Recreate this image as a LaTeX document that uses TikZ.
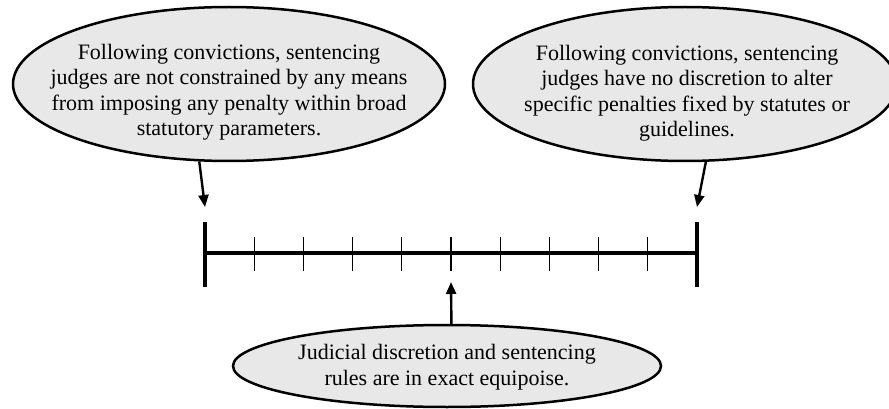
\documentclass[tikz,border=0pt]{standalone}
\usepackage{fontspec}
\setmainfont{Liberation Serif}
\usetikzlibrary{arrows.meta,calc,shapes.geometric}
\definecolor{bubblegray}{HTML}{E8E8E8}
\begin{document}
\begin{tikzpicture}[x=1pt,y=-1pt,
  bubble/.style={draw=black, line width=2.5pt, fill=bubblegray, ellipse, inner sep=0pt},
  bubbletext/.style={align=center, font=\fontsize{22}{25.5}\selectfont, inner sep=0pt},
  arr/.style={line width=2.4pt, -{Triangle[length=12pt,width=10pt]}},
  axisline/.style={line width=3.3pt},
  tickline/.style={line width=1.3pt}
]
\useasboundingbox (0,0) rectangle (889,409);
% bubbles
\node[bubble, minimum width=432pt, minimum height=154pt] (L) at (229,84) {};
\node[bubbletext] (Lt) at (229,92) {Following convictions, sentencing\\judges are not constrained by any means\\from imposing any penalty within broad\\statutory parameters.};
\node[bubble, minimum width=424pt, minimum height=154pt] (R) at (685,84) {};
\node[bubbletext] (Rt) at (687,93) {Following convictions, sentencing\\judges have no discretion to alter\\specific penalties fixed by statutes or\\guidelines.};
\node[bubble, minimum width=428pt, minimum height=82pt] (B) at (447,366) {};
\node[bubbletext] (Bt) at (447,367) {Judicial discretion and sentencing\\rules are in exact equipoise.};
% axis
\coordinate (A0) at (205,253);
\coordinate (A10) at (697,253);
\draw[axisline] (A0) -- (A10);
\draw[axisline] ($(A0)+(0,-31)$) -- ($(A0)+(0,34)$);
\draw[axisline] ($(A10)+(0,-31)$) -- ($(A10)+(0,34)$);
\foreach \i in {1,...,9}{
  \draw[tickline] ($(A0)!\i/10!(A10)+(0,-16)$) -- ($(A0)!\i/10!(A10)+(0,18)$);
}
% arrow targets
\coordinate (TL) at (205,207);
\coordinate (TR) at (697,207);
\coordinate (TM) at (451,282);
\draw[arr] (L.249) -- (TL);
\draw[arr] (R.285) -- (TR);
\draw[arr] (B.84) -- (TM);
\end{tikzpicture}
\end{document}
